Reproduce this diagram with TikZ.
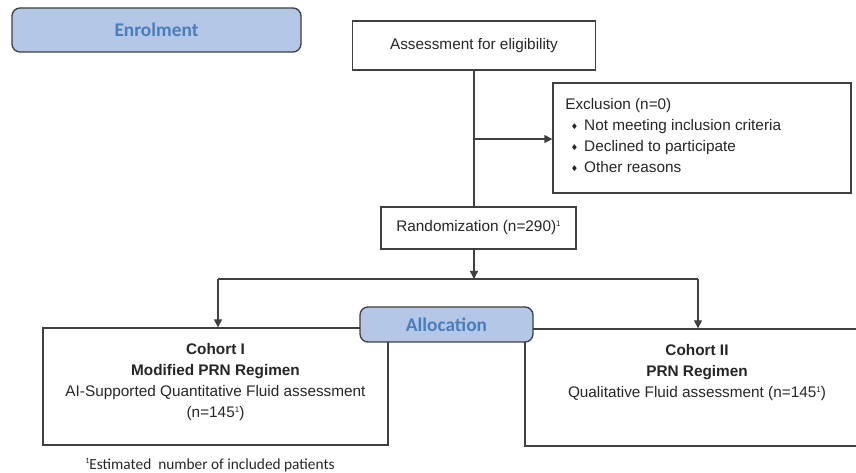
\documentclass[tikz,border=0pt]{standalone}
\usepackage{fontspec}
\usepackage{amssymb}
\setmainfont{Liberation Sans}
\newfontfamily\calibrifont{Carlito}
\usetikzlibrary{arrows.meta}
\definecolor{linec}{HTML}{3F3F3F}
\definecolor{headfill}{HTML}{B4C7E7}
\definecolor{headtext}{HTML}{4A7EBB}
\definecolor{txt}{HTML}{262626}
\newcommand{\exbullet}{\hspace*{4.5pt}\raisebox{1.2pt}{\tiny$\blacklozenge$}\hspace{5pt}}
\newcommand{\supone}{\raisebox{4pt}{\fontsize{6}{6}\selectfont 1}}
\begin{document}
\begin{tikzpicture}[x=0.75pt,y=-0.75pt,
  box/.style={draw=linec, line width=1pt, fill=white, inner sep=0pt, text=txt,
    font=\fontsize{11.5}{15.75}\selectfont, align=center},
  head/.style={draw=linec, line width=1pt, fill=headfill, rounded corners=6pt, inner sep=0pt,
    text=headtext, font=\calibrifont\bfseries\fontsize{14.5}{17}\selectfont},
  txtnode/.style={inner sep=0pt, text=txt, font=\fontsize{11.5}{15.75}\selectfont},
  conn/.style={draw=linec, line width=1pt},
  arr/.style={conn, -{Triangle[length=6pt,width=6pt]}}]
\useasboundingbox (0,0) rectangle (856,473);
\clip (0,0) rectangle (856,473);

% boxes
\node[head, minimum width=0.75*289pt, minimum height=0.75*44pt] (enrol) at (156.5,30) {Enrolment};
\node[box, minimum width=0.75*243pt, minimum height=0.75*49pt] (assess) at (474,45.5) {Assessment for eligibility};
\node[box, minimum width=0.75*298pt, minimum height=0.75*110pt] (excl) at (702,138) {};
\node[txtnode, anchor=north west, align=left] (excltext) at (565,98)
  {Exclusion (n=0)\\
   \exbullet Not meeting inclusion criteria\\
   \exbullet Declined to participate\\
   \exbullet Other reasons};
\node[box, minimum width=0.75*195pt, minimum height=0.75*42pt] (rand) at (478.5,228) {Randomization (n=290)\supone};

\node[box, minimum width=0.75*345pt, minimum height=0.75*117pt] (coh1) at (215.5,386.5) {};
\node[txtnode, anchor=north, align=center] (coh1text) at (215.5,343.5)
  {\textbf{Cohort I}\\ \textbf{Modified PRN Regimen}\\ AI-Supported Quantitative Fluid assessment\\ (n=145\supone)};
\node[box, minimum width=0.75*355pt, minimum height=0.75*117pt] (coh2) at (702.5,387.5) {};
\node[txtnode, anchor=north, align=center] (coh2text) at (697,344.5)
  {\textbf{Cohort II}\\ \textbf{PRN Regimen}\\ Qualitative Fluid assessment (n=145\supone)};

\node[head, minimum width=0.75*173pt, minimum height=0.75*35pt] (alloc) at (446.5,324.5) {Allocation};

% connectors
\coordinate (exsplit) at (474,139);
\coordinate (split) at (474,279);
\coordinate (c1top) at (218,279);
\coordinate (c2top) at (698,279);
\draw[conn] (assess.south) -- (assess.south |- rand.north);
\draw[arr] (exsplit) -- (excl.west |- exsplit);
\draw[arr] (rand.south -| split) -- (split);
\draw[conn] (c1top) -- (c2top);
\draw[arr] (c1top) -- (c1top |- coh1.north);
\draw[arr] (c2top) -- (c2top |- coh2.north);

% footnote
\node[inner sep=0pt, text=txt, font=\calibrifont\fontsize{11.5}{13}\selectfont] (foot) at (210,465)
  {\raisebox{4pt}{\fontsize{6}{6}\selectfont 1}Estimated\ \ number of included patients};
\end{tikzpicture}
\end{document}
